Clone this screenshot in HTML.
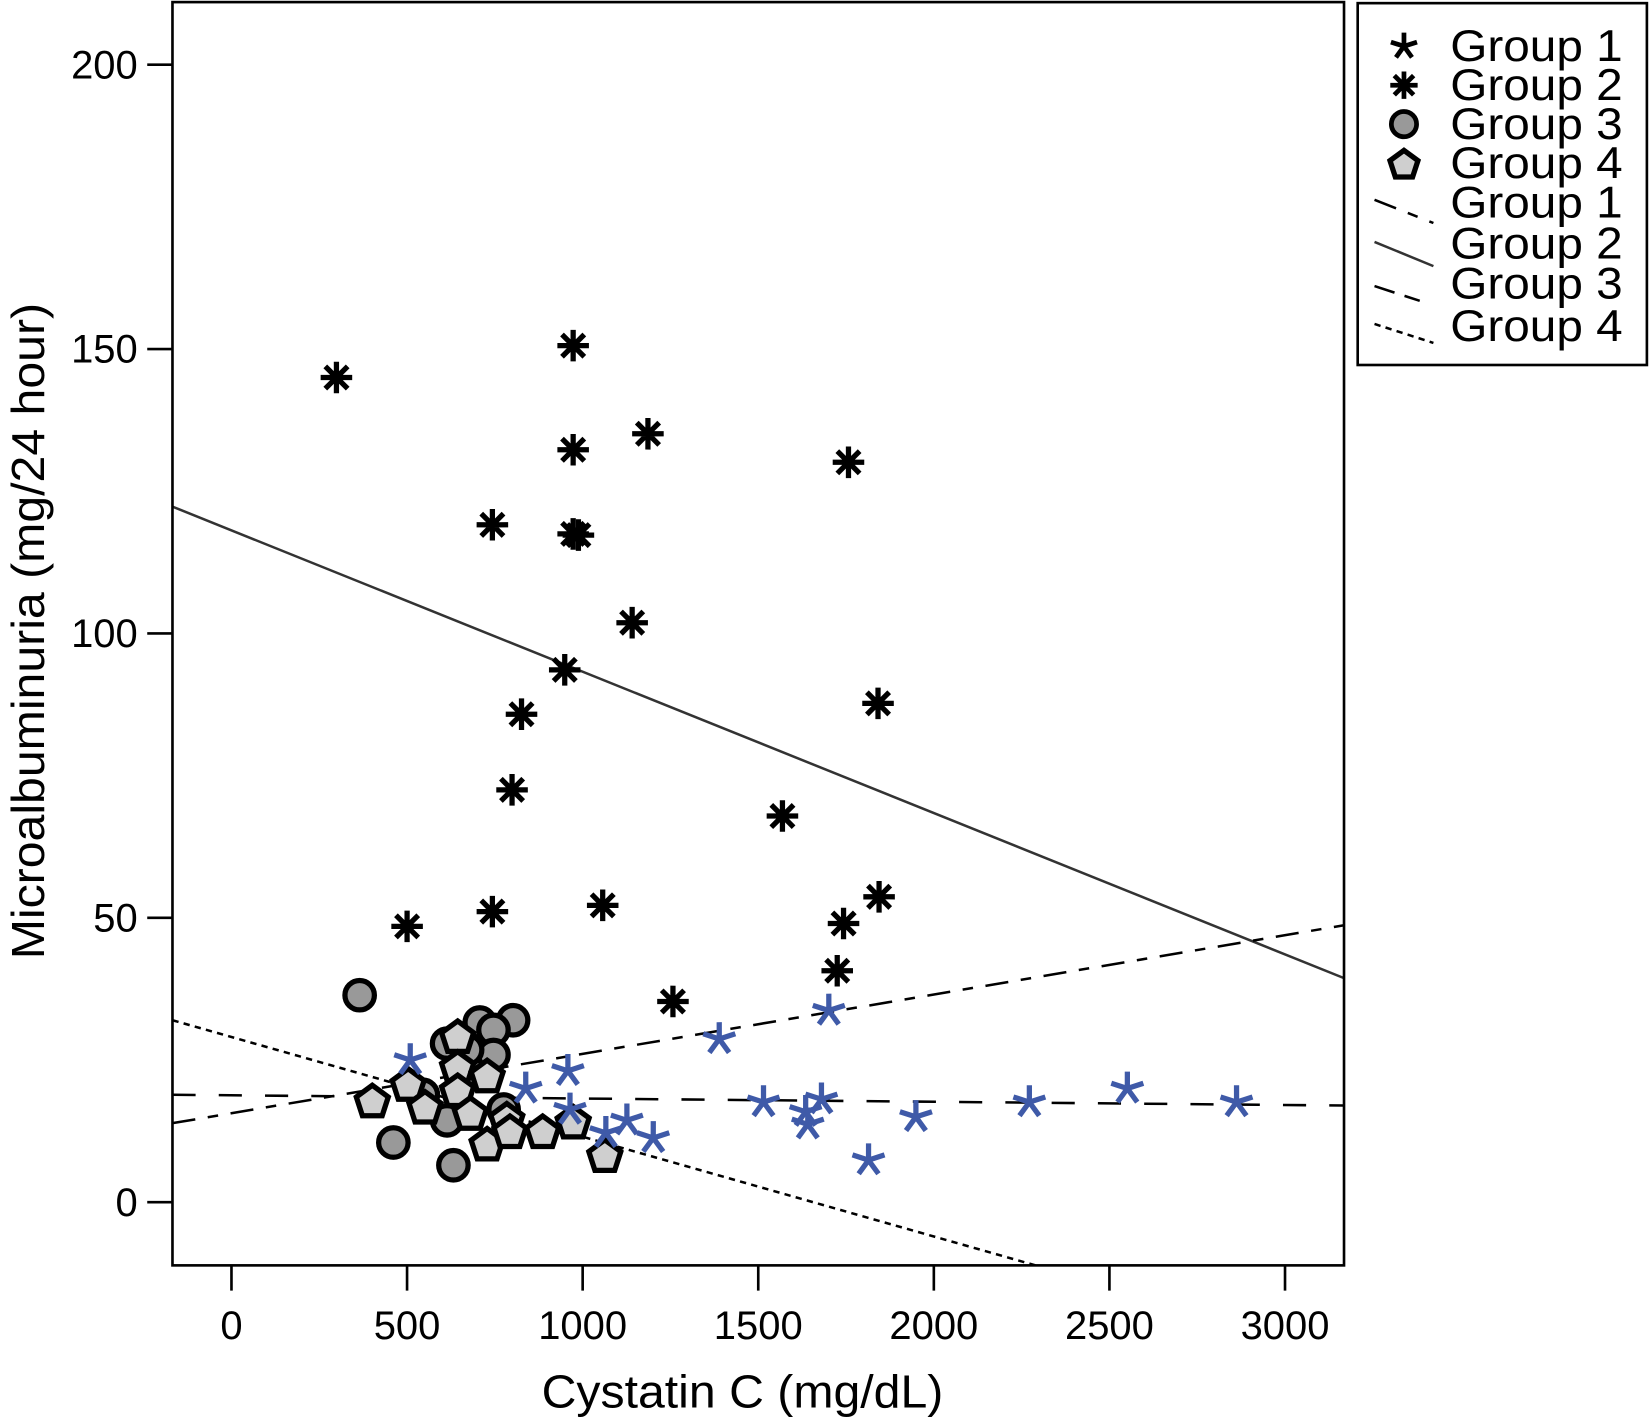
<!DOCTYPE html>
<html><head><meta charset="utf-8"><style>
html,body{margin:0;padding:0;background:#fff}
svg{display:block}
text{font-family:"Liberation Sans",Arial,sans-serif;fill:#000}
</style></head><body>
<svg id="chart" width="1649" height="1420" viewBox="0 0 1568 1350" preserveAspectRatio="none" xmlns="http://www.w3.org/2000/svg">
<g id="plot"></g>
</svg>
<script>
const xTicks=[0,500,1000,1500,2000,2500,3000];
const yTicks=[0,50,100,150,200];
const g1x=[509,838,958,964,1066,1126,1201,1389,1515,1635,1641,1680,1701,1814,1949,2272,2551,2862];
const g1y=[25,20,23.1,16.3,12.2,14.4,11.3,28.7,17.6,15.9,13.7,18.1,33.7,7.4,15,17.6,20,17.6];
const g2x=[299,500,743,743,799,826,949,973,973,973,988,1057,1141,1186,1257,1569,1725,1743,1757,1841,1844];
const g2y=[145,48.5,119.1,51.1,72.5,85.8,93.6,150.6,132.3,117.5,117.3,52.2,101.9,135.1,35.3,67.9,40.7,49,130.1,87.7,53.7];
const g3x=[365,461,632,707,802,746,614,746,671,545,614,775];
const g3y=[36.4,10.5,6.5,31.6,32,30.3,27.9,25.9,26.8,18.9,14.4,16.3];
const g4x=[401,503,551,644,644,644,728,680,728,784,793,886,973,1063];
const g4y=[17.6,20.5,16.5,28.9,23.5,19.4,22,15.4,10,14.4,12.2,12.2,13.9,8];
// fitted lines: [y at x=-168, y at x=3168]
const fitX=[-168,3168];
const fit1=[13.9,48.7];
const fit2=[122.3,39.4];
const fit3=[18.9,17.0];
const fit4=[32.0,-26.5];

const L=164,R=1278,T=2,B=1203;
const xMin=-168,xMax=3168,yMin=-11.1,yMax=211;
const sx=v=>L+(v-xMin)/(xMax-xMin)*(R-L);
const sy=v=>B-(v-yMin)/(yMax-yMin)*(B-T);
const NS='http://www.w3.org/2000/svg';
const svg=document.getElementById('chart');
function mk(tag,attrs,parent){const e=document.createElementNS(NS,tag);for(const k in attrs)e.setAttribute(k,attrs[k]);(parent||svg).appendChild(e);return e;}

const defs=mk('defs',{});
const cp=mk('clipPath',{id:'clip'},defs);
mk('rect',{x:L,y:T,width:R-L,height:B-T},cp);
const plot=mk('g',{'clip-path':'url(#clip)'});



function fitLine(vals,dash,color,name){
  const l=mk('line',{x1:sx(fitX[0]),y1:sy(vals[0]),x2:sx(fitX[1]),y2:sy(vals[1]),stroke:color,'stroke-width':2.4,'stroke-dasharray':dash},plot);
  
  
}
fitLine(fit2,'none','#333','fit-line-group-2');
fitLine(fit1,'22 12 10 12','#000','fit-line-group-1');
fitLine(fit3,'22 22','#000','fit-line-group-3');
fitLine(fit4,'6 5','#000','fit-line-group-4');

function spokes(cx,cy,n,r,start,color,w,parent){
  let d='';
  for(let i=0;i<n;i++){const a=(start+i*360/n)*Math.PI/180;d+=`M${cx} ${cy}L${(cx+r*Math.cos(a)).toFixed(1)} ${(cy+r*Math.sin(a)).toFixed(1)}`;}
  return mk('path',{d:d,stroke:color,'stroke-width':w,'stroke-linecap':'butt',fill:'none'},parent);
}
function pent(cx,cy,r,parent){
  let pts=[];for(let i=0;i<5;i++){const a=(-90+i*72)*Math.PI/180;pts.push((cx+r*Math.cos(a)).toFixed(1)+','+(cy+r*Math.sin(a)).toFixed(1));}
  return mk('polygon',{points:pts.join(' '),fill:'#cfcfcf',stroke:'#000','stroke-width':5,'stroke-linejoin':'miter'},parent);
}
g3x.forEach((x,i)=>{
  const c=mk('circle',{cx:sx(x),cy:sy(g3y[i]),r:14,fill:'#999',stroke:'#000','stroke-width':5},plot);
  
  
});
g4x.forEach((x,i)=>{
  const p=pent(sx(x),sy(g4y[i]),16,plot);
  
  
});
g2x.forEach((x,i)=>{
  const p=spokes(sx(x),sy(g2y[i]),8,15,-90,'#000',5,plot);
  
  
});
g1x.forEach((x,i)=>{
  const p=spokes(sx(x),sy(g1y[i]),5,16,-90,'#3f5aa8',5,plot);
  
  
});

const frame=mk('rect',{x:L,y:T,width:R-L,height:B-T,fill:'none',stroke:'#000','stroke-width':2.5});



xTicks.forEach(v=>{
  const t=mk('line',{x1:sx(v),y1:B,x2:sx(v),y2:B+24,stroke:'#000','stroke-width':2.5});
  
  
  const tx=mk('text',{x:sx(v),y:1273,'font-size':38,'text-anchor':'middle'});
  tx.textContent=v;
  
  
});
yTicks.forEach(v=>{
  const t=mk('line',{x1:L-24,y1:sy(v),x2:L,y2:sy(v),stroke:'#000','stroke-width':2.5});
  
  
  const tx=mk('text',{x:131,y:sy(v)+13,'font-size':38,'text-anchor':'end'});
  tx.textContent=v;
  
  
});
const xt=mk('text',{x:706,y:1338,'font-size':44,'text-anchor':'middle',textLength:382,lengthAdjust:'spacingAndGlyphs'});
xt.textContent='Cystatin C (mg/dL)';


const yt=mk('text',{x:0,y:0,'font-size':44,'text-anchor':'middle',transform:'translate(42,600) rotate(-90)',textLength:624,lengthAdjust:'spacingAndGlyphs'});
yt.textContent='Microalbuminuria (mg/24 hour)';



// legend
const lg=mk('g',{});


mk('rect',{x:1291,y:3,width:275,height:344,fill:'#fff',stroke:'#000','stroke-width':2.5},lg);
const rows=[44,81,118,155,193,232,270,310];
const labels=['Group 1','Group 2','Group 3','Group 4','Group 1','Group 2','Group 3','Group 4'];
rows.forEach((y,i)=>{
  const t=mk('text',{x:1379,y:y+14,'font-size':42,textLength:164,lengthAdjust:'spacingAndGlyphs'},lg);
  t.textContent=labels[i];
  
  
});
spokes(1335,44,5,13,-90,'#000',4.5,lg);
spokes(1335,81,8,13,-90,'#000',4.5,lg);
mk('circle',{cx:1335,cy:118,r:12,fill:'#999',stroke:'#000','stroke-width':4.5},lg);
pent(1335,157,14,lg);
mk('line',{x1:1307,y1:190,x2:1363,y2:212,stroke:'#000','stroke-width':2.4,'stroke-dasharray':'22 12 10 12'},lg);
mk('line',{x1:1307,y1:230,x2:1363,y2:253,stroke:'#333','stroke-width':2.4},lg);
mk('line',{x1:1307,y1:272,x2:1350,y2:286,stroke:'#000','stroke-width':2.4,'stroke-dasharray':'20 10'},lg);
mk('line',{x1:1307,y1:308,x2:1363,y2:326,stroke:'#000','stroke-width':2.4,'stroke-dasharray':'6 5'},lg);
</script>
</body></html>
